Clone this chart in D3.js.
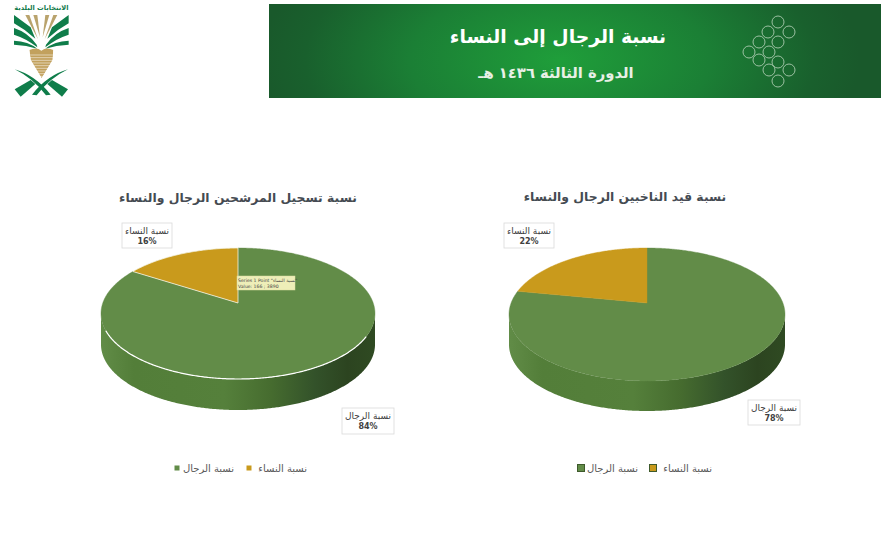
<!DOCTYPE html>
<html lang="ar"><head><meta charset="utf-8">
<script src="https://cdn.jsdelivr.net/npm/d3@7"></script>
<style>html,body{margin:0;padding:0;background:#fff}svg{display:block}
text{font-family:"DejaVu Sans","Noto Sans",sans-serif}</style></head>
<body><svg id="c" width="881" height="548"></svg>
<script>
const categories = ["نسبة الرجال", "نسبة النساء"];
const candidateValues = [84, 16];
const voterValues = [78, 22];
const candidateTitle = "نسبة تسجيل المرشحين الرجال والنساء";
const voterTitle = "نسبة قيد الناخبين الرجال والنساء";
const headerTitle = "نسبة الرجال إلى النساء";
const headerSubtitle = "الدورة الثالثة ١٤٣٦ هـ";
const logoText = "الانتخابات البلدية";
const colors = ["#628c48", "#c99a1c"];

const svg = d3.select("#c");
const defs = svg.append("defs");

/* header */
const hg = defs.append("radialGradient").attr("id","hg").attr("gradientUnits","userSpaceOnUse")
  .attr("cx",560).attr("cy",60).attr("r",300).attr("gradientTransform","translate(0 30) scale(1 0.5)");
hg.append("stop").attr("offset",0).attr("stop-color","#1f9e3a");
hg.append("stop").attr("offset",.5).attr("stop-color","#1b7f35");
hg.append("stop").attr("offset",.85).attr("stop-color","#19602d");
hg.append("stop").attr("offset",1).attr("stop-color","#19592b");
svg.append("rect").attr("x",269).attr("y",4).attr("width",612).attr("height",94).attr("fill","url(#hg)");
svg.append("text").attr("x",558).attr("y",43).attr("text-anchor","middle").attr("direction","rtl")
  .attr("fill","#fff").attr("font-weight","bold").attr("font-size",18.8).text(headerTitle);
svg.append("text").attr("x",556).attr("y",78).attr("text-anchor","middle").attr("direction","rtl")
  .attr("fill","#e8f0e6").attr("font-weight","bold").attr("font-size",14.8).text(headerSubtitle);
const ringCentres = [[778,22],[768,32],[789,32],[759,42],[778,42],[749,52],[769,52],[759,60],[778,62],[769,70],[789,70],[778,81]];
svg.append("g").selectAll("circle").data(ringCentres).join("circle")
  .attr("cx",d=>d[0]).attr("cy",d=>d[1]).attr("r",6)
  .attr("fill","none").attr("stroke","#a9c9ae").attr("stroke-width",.9);

/* logo */
const logo = svg.append("g").attr("transform","scale(0.3333)");
logo.append("text").attr("x",124).attr("y",30).attr("text-anchor","middle").attr("direction","rtl")
  .attr("fill","#127a4b").attr("font-weight","bold").attr("font-size",20).text(logoText);
const fan = g => {
  g.append("path").attr("d","M42 45 L92 82 L106 116 Q75 88 42 70 Z").attr("fill","#0f7d4a");
  g.append("path").attr("d","M42 84 Q85 98 110 134 L112 142 Q80 116 42 104 Z").attr("fill","#0f7d4a");
  g.append("path").attr("d","M42 122 Q85 124 112 146 Q80 136 42 134 Z").attr("fill","#0f7d4a");
  g.append("path").attr("d","M100 45 L112 45 L120 112 Z").attr("fill","#b9a36d");
  g.append("path").attr("d","M76 45 L88 45 L114 118 Z").attr("fill","#b9a36d");
};
const swords = g => {
  g.append("path").attr("d","M44 208 Q105 225 152 284 L138 286 Q100 235 44 208 Z").attr("fill","#0f7d4a");
  g.append("path").attr("d","M44 268 L92 240 L106 252 L62 290 Z").attr("fill","#0f7d4a");
};
logo.append("g").call(fan);
logo.append("g").attr("transform","translate(248 0) scale(-1 1)").call(fan);
logo.append("path").attr("d","M88 150 Q110 140 124 152 Q140 140 160 150 L158 180 L125 234 L92 180 Z").attr("fill","#c2a15d");
logo.append("g").selectAll("path").data(d3.range(165,232,8)).join("path")
  .attr("d",y=>`M80 ${y}H170`).attr("stroke","#fff").attr("stroke-width",1.6);
logo.append("path").attr("d","M70 150H88L92 180L125 236H70Z M178 150H160L158 180L125 236H178Z").attr("fill","#fff");
logo.append("g").call(swords);
logo.append("g").attr("transform","translate(248 0) scale(-1 1)").call(swords);

/* pies */
const pieGen = d3.pie().sort(null).value(d=>d);
const chartLine = d3.line();

function drawPie(cfg){
  const g = svg.append("g");
  // perspective projection of the disc onto the page
  const c = (2*cfg.apexY-cfg.topY-cfg.botY)/(cfg.botY-cfg.topY);
  const a = cfg.apexY-cfg.topY+cfg.topY*c;
  const rxp = cfg.rx*Math.sqrt(1-c*c);
  const proj = t => {
    const u=Math.sin(t), v=-Math.cos(t), w=1+c*v;
    return [cfg.cx+rxp*u/w, (a*v+cfg.apexY)/w];
  };
  const rim = d3.range(0,721).map(i=>proj(i/720*2*Math.PI));
  const iMax = d3.maxIndex(rim.slice(0,360),p=>p[0]);
  const iMin = 360+d3.minIndex(rim.slice(360),p=>p[0]);
  const front = rim.slice(iMax,iMin+1);
  // wall
  const gid="wall"+cfg.id;
  const wg = defs.append("linearGradient").attr("id",gid);
  [[0,"#618c47"],[.12,"#537e39"],[.45,"#55803b"],[.62,"#466c2f"],[.78,"#33522a"],[.9,"#2c4420"],[1,"#2f4a22"]]
    .forEach(s=>wg.append("stop").attr("offset",s[0]).attr("stop-color",s[1]));
  const wall = front.concat(front.map(p=>[p[0],p[1]+cfg.depth]).reverse());
  g.append("path").attr("d",chartLine(wall)+"Z").attr("fill",`url(#${gid})`);
  // slices
  pieGen(cfg.values).forEach((d,i)=>{
    const n=Math.ceil((d.endAngle-d.startAngle)*90);
    const pts=d3.range(n+1).map(k=>proj(d.startAngle+(d.endAngle-d.startAngle)*k/n));
    pts.push([cfg.cx,cfg.apexY]);
    g.append("path").attr("d",chartLine(pts)+"Z").attr("fill",colors[i])
      .attr("stroke",cfg.outline&&i===1?"#f4f4e4":colors[i]).attr("stroke-width",cfg.outline&&i===1?0.8:.4);
  });
  if(cfg.outline){
    g.append("path").attr("d",chartLine(front.slice(40,-30))).attr("fill","none").attr("stroke","#fff").attr("stroke-width",1.2);
  }
  // title
  g.append("text").attr("x",cfg.titleX).attr("y",cfg.titleY).attr("text-anchor","middle").attr("direction","rtl")
    .attr("font-weight","bold").attr("font-size",12.4).attr("fill","#454b52").text(cfg.title);
  // data labels
  cfg.boxes.forEach((b,i)=>{
    g.append("rect").attr("x",b[0]).attr("y",b[1]).attr("width",b[2]-b[0]).attr("height",b[3]-b[1])
      .attr("fill","#fff").attr("stroke","#d9d9d9").attr("stroke-width",.8);
    const mx=(b[0]+b[2])/2;
    g.append("text").attr("x",mx).attr("y",b[1]+11).attr("text-anchor","middle").attr("direction","rtl")
      .attr("font-size",9).attr("fill","#404040").text(categories[i]);
    g.append("text").attr("x",mx).attr("y",b[1]+21).attr("text-anchor","middle")
      .attr("font-size",8).attr("font-weight","bold").attr("fill","#404040").text(cfg.values[i]+"%");
  });
  // legend
  cfg.legend.forEach((l,i)=>{
    g.append("rect").attr("x",l[0]-cfg.sw/2).attr("y",468-cfg.sw/2).attr("width",cfg.sw).attr("height",cfg.sw)
      .attr("fill",colors[i]).attr("stroke",cfg.swStroke?"#3e5a2c":"none").attr("stroke-width",cfg.swStroke?1:0);
    g.append("text").attr("x",l[1]).attr("y",472).attr("text-anchor","start").attr("direction","rtl")
      .attr("font-size",10).attr("fill","#595959").text(categories[i]);
  });
}
drawPie({id:"a",values:candidateValues,title:candidateTitle,cx:238,apexY:303,topY:248,botY:379,rx:137,depth:31,outline:true,
  titleX:238,titleY:202,boxes:[[342,408,394,434],[122,223,172,248]],legend:[[177,234],[249,307]],sw:5,swStroke:false});
drawPie({id:"b",values:voterValues,title:voterTitle,cx:647,apexY:303,topY:248,botY:381,rx:138,depth:30,outline:false,
  titleX:625,titleY:201,boxes:[[748,400,800,425],[504,223,554,248]],legend:[[581,638],[653,712]],sw:7,swStroke:true});

/* tooltip left on the first chart */
const tip = svg.append("g");
tip.append("rect").attr("x",237).attr("y",276).attr("width",58).attr("height",14).attr("fill","#eeeeb8").attr("stroke","#dcdca0").attr("stroke-width",.5);
tip.append("text").attr("x",238).attr("y",282).attr("font-size",4.6).attr("fill","#444").text('Series 1 Point "نسبة النساء"');
tip.append("text").attr("x",238).attr("y",288).attr("font-size",4.6).attr("fill","#444").text('Value: 166 ; 3890');
</script></body></html>
